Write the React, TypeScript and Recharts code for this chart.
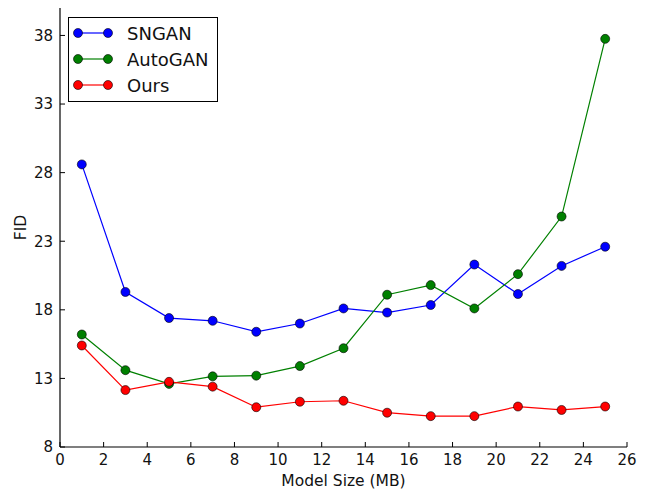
import { Legend, Line, LineChart, XAxis, YAxis } from "recharts";

const sizes = [1, 3, 5, 7, 9, 11, 13, 15, 17, 19, 21, 23, 25];
const sngan = [28.6, 19.3, 17.4, 17.2, 16.4, 17.0, 18.1, 17.8, 18.35, 21.3, 19.15, 21.2, 22.6];
const autogan = [16.2, 13.6, 12.6, 13.15, 13.2, 13.9, 15.2, 19.1, 19.8, 18.1, 20.6, 24.8, 37.75];
const ours = [15.4, 12.15, 12.75, 12.4, 10.9, 11.3, 11.37, 10.5, 10.25, 10.25, 10.95, 10.7, 10.95];

const xTicks = [0, 2, 4, 6, 8, 10, 12, 14, 16, 18, 20, 22, 24, 26];
const yTicks = [8, 13, 18, 23, 28, 33, 38];

const series = [
  { key: "sngan", name: "SNGAN", color: "#0000ff" },
  { key: "autogan", name: "AutoGAN", color: "#008000" },
  { key: "ours", name: "Ours", color: "#ff0000" },
];

const data = sizes.map((s, i) => ({ size: s, sngan: sngan[i], autogan: autogan[i], ours: ours[i] }));

const font = "'DejaVu Sans', sans-serif";
const tickStyle = { fontSize: 15, fill: "#111", fontFamily: font };
const labelStyle = { fontSize: 15.5, fill: "#111", fontFamily: font };

function LegendBox() {
  return (
    <div
      style={{
        border: "1px solid #000",
        background: "#fff",
        width: 148,
        height: 83,
        boxSizing: "content-box",
        fontFamily: font,
      }}
    >
      {series.map((s, i) => (
        <div key={s.key} style={{ display: "flex", alignItems: "center", height: 26, marginTop: i === 0 ? 2 : 0 }}>
          <svg width={50} height={20} style={{ marginLeft: 4 }}>
            <line x1={5} y1={10} x2={35} y2={10} stroke={s.color} strokeWidth={1.2} />
            <circle cx={5} cy={10} r={4.5} fill={s.color} stroke="#000" strokeWidth={0.6} />
            <circle cx={35} cy={10} r={4.5} fill={s.color} stroke="#000" strokeWidth={0.6} />
          </svg>
          <span style={{ fontSize: 18, marginLeft: 4, color: "#111" }}>{s.name}</span>
        </div>
      ))}
    </div>
  );
}

export default function App() {
  return (
    <div style={{ position: "absolute", left: 0, top: 0, background: "#fff" }}>
      <LineChart width={645} height={491} data={data} margin={{ top: 8, right: 18, left: 0, bottom: 0 }}>
        <XAxis
          dataKey="size"
          type="number"
          domain={[0, 26]}
          ticks={xTicks}
          height={44}
          tickSize={-5}
          tickMargin={12}
          tick={tickStyle}
          stroke="#000"
          axisLine={{ stroke: "#000", strokeWidth: 1.2 }}
          tickLine={{ stroke: "#000" }}
          label={{ value: "Model Size (MB)", position: "insideBottom", offset: 5, style: labelStyle }}
        />
        <XAxis
          xAxisId="top"
          dataKey="size"
          type="number"
          orientation="top"
          domain={[0, 26]}
          ticks={xTicks}
          height={0}
          tickSize={-5}
          tick={false}
          axisLine={{ stroke: "#000", strokeWidth: 1.2 }}
          tickLine={{ stroke: "#000" }}
        />
        <YAxis
          type="number"
          domain={[8, 40]}
          ticks={yTicks}
          width={60}
          tickSize={-5}
          tickMargin={12}
          tick={tickStyle}
          axisLine={{ stroke: "#000", strokeWidth: 1.2 }}
          tickLine={{ stroke: "#000" }}
          label={{ value: "FID", angle: -90, position: "insideLeft", offset: 20, style: { ...labelStyle, textAnchor: "middle" } }}
        />
        <YAxis
          yAxisId="right"
          type="number"
          orientation="right"
          domain={[8, 40]}
          ticks={yTicks}
          width={0}
          tickSize={-5}
          tick={false}
          axisLine={{ stroke: "#000", strokeWidth: 1.2 }}
          tickLine={{ stroke: "#000" }}
        />
        <Legend
          layout="vertical"
          align="center"
          verticalAlign="middle"
          wrapperStyle={{ position: "absolute", left: 68, top: 17, width: 150 }}
          content={() => <LegendBox />}
        />
        {series.map((s) => (
          <Line
            key={s.key}
            dataKey={s.key}
            name={s.name}
            stroke={s.color}
            strokeWidth={1.2}
            isAnimationActive={false}
            dot={{ r: 4.5, fill: s.color, stroke: "#000", strokeWidth: 0.6 }}
            activeDot={false}
          />
        ))}
        <Line yAxisId="right" xAxisId="top" dataKey="ours" stroke="none" dot={false} legendType="none" isAnimationActive={false} activeDot={false} />
      </LineChart>
    </div>
  );
}
